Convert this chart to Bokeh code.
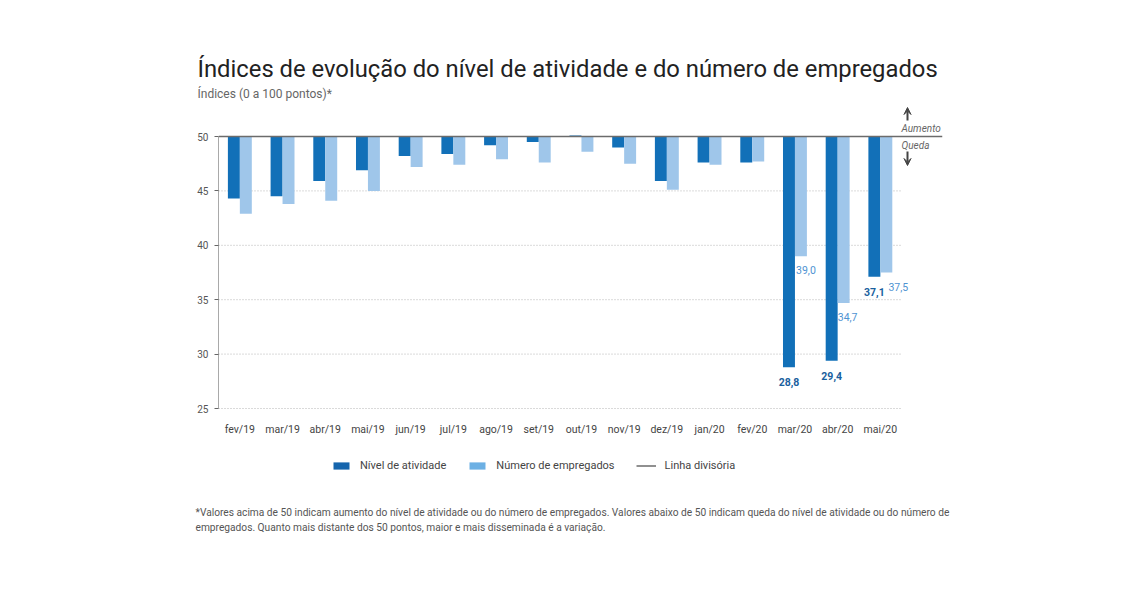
from bokeh.plotting import figure
from bokeh.layouts import column
from bokeh.models import (Label, Legend, LegendItem, Arrow, VeeHead, FixedTicker,
                          ColumnDataSource, Range1d, Title)
from bokeh.embed import file_html
from bokeh.resources import INLINE

# ---------------- data ----------------
months = ["fev/19", "mar/19", "abr/19", "mai/19", "jun/19", "jul/19", "ago/19", "set/19",
          "out/19", "nov/19", "dez/19", "jan/20", "fev/20", "mar/20", "abr/20", "mai/20"]
nivel_atividade = [44.3, 44.5, 45.9, 46.9, 48.2, 48.4, 49.2, 49.5,
                   50.1, 49.0, 45.9, 47.6, 47.6, 28.8, 29.4, 37.1]
numero_empregados = [42.9, 43.8, 44.1, 45.0, 47.2, 47.4, 47.9, 47.6,
                     48.6, 47.5, 45.1, 47.4, 47.7, 39.0, 34.7, 37.5]
y_ticks = [25, 30, 35, 40, 45, 50]
baseline = 50
labelled = [13, 14, 15]  # months with value labels

# ---------------- geometry helpers (frame in px) ----------------
W = 1140
FL, FR, FT, FB = 218, 942, 105, 410
AX_H = 25
PX_X = 42.7          # px per category
PX_Y = 10.88         # px per index point
Y50 = 136


def px2x(px):
    return (px - FL) / PX_X - 0.5


def py2y(py):
    return baseline - (py - Y50) / PX_Y


idx = list(range(len(months)))
bw = 0.28

# ---------------- main chart ----------------
p = figure(frame_width=FR - FL, frame_height=FB - FT, output_backend="svg", toolbar_location=None,
           x_range=(px2x(FL), px2x(FR)), y_range=(py2y(FB), py2y(FT)),
           min_border_left=FL, min_border_right=W - FR,
           min_border_top=FT, min_border_bottom=AX_H,
           background_fill_color="white", border_fill_color="white")
p.outline_line_color = None
p.xgrid.visible = False
p.ygrid.visible = False

dark = "#1270b8"
light = "#9fc6ea"

grid_y = [t for t in y_ticks if t != baseline]
p.segment(x0=[-0.5] * len(grid_y), x1=[len(months) - 0.5] * len(grid_y), y0=grid_y, y1=grid_y,
          line_color="#b5b5b5", line_width=1, line_dash="1 2")
p.segment(x0=[-0.5], x1=[-0.5], y0=[min(y_ticks)], y1=[baseline], line_color="#555555", line_width=1)

src = ColumnDataSource(dict(
    x_d=[i - bw / 2 for i in idx], x_l=[i + bw / 2 for i in idx],
    nivel=nivel_atividade, emp=numero_empregados, top=[baseline] * len(idx)))
p.vbar(x="x_d", width=bw, top="top", bottom="nivel", source=src,
       fill_color=dark, line_color=None)
p.vbar(x="x_l", width=bw, top="top", bottom="emp", source=src,
       fill_color=light, line_color=None)

p.line(x=[px2x(FL), px2x(FR)], y=[baseline, baseline], line_color="#6b6b6b", line_width=1.5)

lab_font = "Roboto"
light_offsets = {13: 5, 14: 4, 15: 12}
for i in labelled:
    v = nivel_atividade[i]
    p.add_layout(Label(x=i - bw / 2, y=v, text=f"{v:.1f}".replace(".", ","),
                       text_align="center", text_baseline="middle", y_offset=-15,
                       text_font=lab_font, text_font_size="10.5px", text_font_style="bold",
                       text_color="#1a5f9e"))
    w = numero_empregados[i]
    p.add_layout(Label(x=i + bw / 2, y=w, text=f"{w:.1f}".replace(".", ","),
                       text_align="center", text_baseline="middle", y_offset=-14,
                       x_offset=light_offsets[i],
                       text_font=lab_font, text_font_size="10.5px",
                       text_color="#4f93d2"))

ann_font = "Roboto"
p.add_layout(Arrow(x_start=px2x(907), y_start=py2y(120), x_end=px2x(907), y_end=py2y(107),
                   line_color="#444444", line_width=2,
                   end=VeeHead(size=7, fill_color="#444444", line_color="#444444")))
p.add_layout(Arrow(x_start=px2x(907), y_start=py2y(151), x_end=px2x(907), y_end=py2y(165),
                   line_color="#444444", line_width=2,
                   end=VeeHead(size=7, fill_color="#444444", line_color="#444444")))
p.add_layout(Label(x=px2x(901), y=py2y(128), text="Aumento", text_baseline="middle",
                   text_font=ann_font, text_font_size="10px", text_font_style="italic",
                   text_color="#666666"))
p.add_layout(Label(x=px2x(901), y=py2y(145), text="Queda", text_baseline="middle",
                   text_font=ann_font, text_font_size="10px", text_font_style="italic",
                   text_color="#666666"))

p.yaxis.ticker = FixedTicker(ticks=y_ticks)
p.yaxis.axis_line_color = None
p.yaxis.major_tick_out = 4
p.yaxis.major_tick_in = 0
p.yaxis.minor_tick_line_color = None
p.yaxis.major_tick_line_color = "#666666"
p.yaxis.major_label_text_font = "Roboto"
p.yaxis.major_label_text_font_size = "10px"
p.yaxis.major_label_text_color = "#555555"
p.yaxis.major_label_standoff = 6

p.xaxis.ticker = FixedTicker(ticks=idx)
p.xaxis.major_label_overrides = {i: m for i, m in enumerate(months)}
p.xaxis.axis_line_color = None
p.xaxis.major_tick_line_color = None
p.xaxis.minor_tick_line_color = None
p.xaxis.major_label_text_font = "Roboto"
p.xaxis.major_label_text_font_size = "10.5px"
p.xaxis.major_label_text_color = "#444444"
p.xaxis.major_label_standoff = 6

# titles
p.title.text = "Índices de evolução do nível de atividade e do número de empregados"
p.title.text_font = "Roboto"
p.title.text_font_size = "23.8px"
p.title.text_font_style = "normal"
p.title.text_color = "#222222"
p.title.align = "left"
p.title.offset = -21
p.title.standoff = -5
p.add_layout(Title(text="Índices (0 a 100 pontos)*", align="left", offset=-21, standoff=9,
                   text_font="Roboto", text_font_size="12px", text_font_style="normal",
                   text_color="#666666"), "above")

# ---------------- footer figure: legend + footnote ----------------
BOT_TOP = FB + AX_H
F2_H = 65
p2 = figure(frame_width=FR - FL, frame_height=F2_H, output_backend="svg", toolbar_location=None,
            x_range=Range1d(0, 1), y_range=Range1d(0, 1),
            x_axis_type=None, y_axis_type=None,
            min_border_left=FL, min_border_right=W - FR,
            min_border_top=0, min_border_bottom=600 - BOT_TOP - F2_H,
            background_fill_color="white", border_fill_color="white")
p2.outline_line_color = None
p2.grid.visible = False
p2.title.visible = False

proxy = ColumnDataSource(dict(x=[0], y=[0]))
leg_d = p2.vbar(x="x", width=0, top="y", bottom="y", source=proxy,
                fill_color="#1565ad", line_color=None, visible=False)
leg_l = p2.vbar(x="x", width=0, top="y", bottom="y", source=proxy,
                fill_color="#6cb0e4", line_color=None, visible=False)
leg_line = p2.line(x="x", y="y", source=proxy, line_color="#6b6b6b", line_width=1.5, visible=False)
legend = Legend(items=[LegendItem(label="Nível de atividade", renderers=[leg_d]),
                       LegendItem(label="Número de empregados", renderers=[leg_l]),
                       LegendItem(label="Linha divisória", renderers=[leg_line])],
                orientation="horizontal", location=(331 - FL, (BOT_TOP + F2_H) - 469),
                border_line_color=None, background_fill_alpha=0,
                inactive_fill_alpha=0,
                glyph_width=20, glyph_height=9, label_standoff=9, spacing=21,
                label_height=12,
                label_text_font="Roboto", label_text_font_size="11px",
                label_text_color="#444444", margin=0, padding=0)
p2.add_layout(legend)

foot_kw = dict(align="left", offset=-23, text_font="Roboto", text_font_size="10.2px",
               text_font_style="normal", text_color="#555555", standoff=2)
p2.add_layout(Title(text="*Valores acima de 50 indicam aumento do nível de atividade ou do número de empregados. "
                         "Valores abaixo de 50 indicam queda do nível de atividade ou do número de",
                    **foot_kw), "below")
p2.add_layout(Title(text="empregados. Quanto mais distante dos 50 pontos, maior e mais disseminada é a variação.",
                    **foot_kw), "below")

layout = column(p, p2, spacing=0)
open("out.html", "w").write(file_html(layout, INLINE))
